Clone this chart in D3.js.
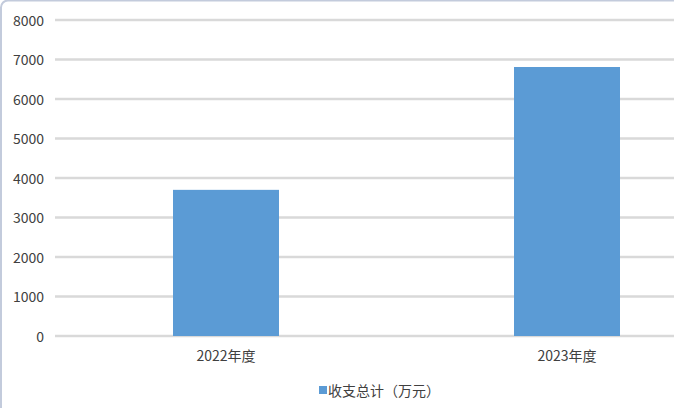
<!DOCTYPE html>
<html><head><meta charset="utf-8">
<script src="https://cdn.jsdelivr.net/npm/d3@7"></script>
<style>body{margin:0;background:#fff}svg{display:block}</style>
</head><body><div id="c"></div>
<script>
const categories = ["2022年度", "2023年度"];
const values = [3700, 6810];
const yTicks = [0, 1000, 2000, 3000, 4000, 5000, 6000, 7000, 8000];
const seriesName = "收支总计（万元）";

const W = 674, H = 408;
const svg = d3.select("#c").append("svg").attr("width", W).attr("height", H);
const font = "'Noto Sans CJK SC', 'Noto Sans', sans-serif";

svg.append("rect").attr("x", 1).attr("y", 0.5).attr("width", W + 20).attr("height", H + 20)
  .attr("rx", 7).attr("fill", "#fff").attr("stroke", "#c3cbdc").attr("stroke-width", 2);

const y = d3.scaleLinear().domain([0, 8000]).range([336, 20]);
const x = d3.scaleBand().domain(categories).range([55.5, 737.5]);
const barW = 106;

const grid = svg.append("g");
grid.selectAll("line").data(yTicks).join("line")
  .attr("x1", 55).attr("x2", 674)
  .attr("y1", d => y(d)).attr("y2", d => y(d))
  .attr("stroke", "#d9d9d9").attr("stroke-width", 2.5);

const yAxis = svg.append("g").attr("transform", "translate(44,0)")
  .call(d3.axisLeft(y).tickValues(yTicks).tickFormat(d3.format("d")).tickSize(0).tickPadding(0));
yAxis.select(".domain").remove();
yAxis.selectAll("text").attr("font-family", font).attr("font-size", 14).attr("fill", "#404040").attr("dy", "0.36em");

svg.append("g").selectAll("rect").data(values).join("rect")
  .attr("x", (d, i) => x(categories[i]) + x.bandwidth() / 2 - barW / 2)
  .attr("width", barW)
  .attr("y", d => y(d)).attr("height", d => y(0) - y(d))
  .attr("fill", "#5b9bd5");

const xAxis = svg.append("g").attr("transform", "translate(0,336)")
  .call(d3.axisBottom(x).tickSize(0).tickPadding(15));
xAxis.select(".domain").remove();
xAxis.selectAll("text").attr("font-family", font).attr("font-size", 14).attr("fill", "#404040");

const lg = svg.append("g");
lg.append("rect").attr("x", 319).attr("y", 386).attr("width", 8).attr("height", 8).attr("fill", "#5b9bd5");
lg.append("text").attr("x", 328).attr("y", 396).text(seriesName)
  .attr("font-family", font).attr("font-size", 14).attr("fill", "#404040");
</script></body></html>
